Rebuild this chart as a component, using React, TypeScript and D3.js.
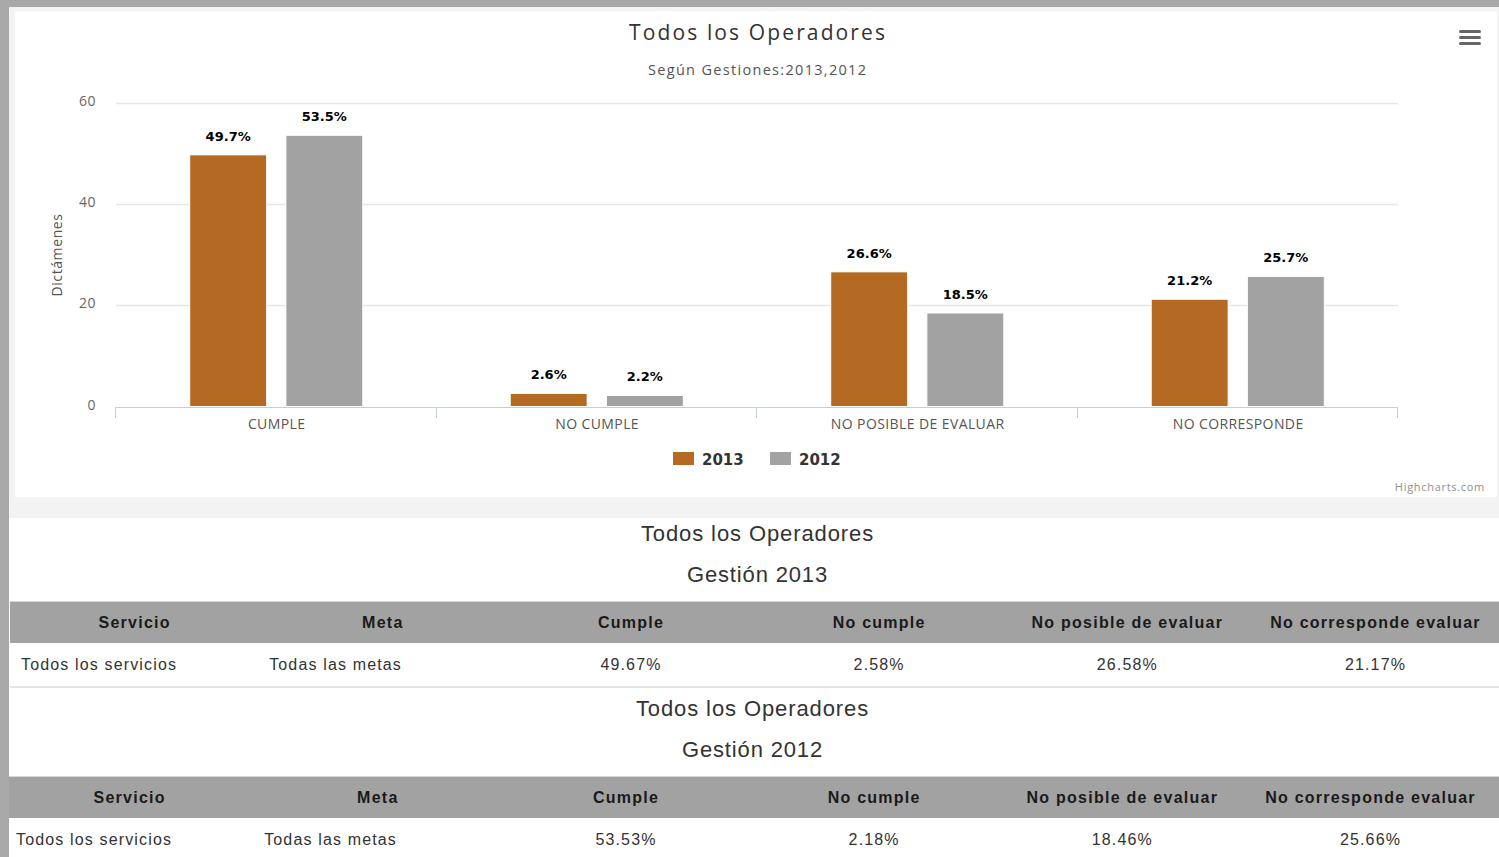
import React from "react";
import * as d3 from "d3";

const categories = ["CUMPLE", "NO CUMPLE", "NO POSIBLE DE EVALUAR", "NO CORRESPONDE"];
const seriesNames = ["2013", "2012"];
const values2013 = [49.67, 2.58, 26.58, 21.17];
const values2012 = [53.53, 2.18, 18.46, 25.66];
const seriesColors = ["#b56a24", "#a3a2a2"];
const yTicks = [0, 20, 40, 60];
const tableHeaders = ["Servicio", "Meta", "Cumple", "No cumple", "No posible de evaluar", "No corresponde evaluar"];
const row2013 = ["Todos los servicios", "Todas las metas", "49.67%", "2.58%", "26.58%", "21.17%"];
const row2012 = ["Todos los servicios", "Todas las metas", "53.53%", "2.18%", "18.46%", "25.66%"];

const W = 1499;
const H = 857;

export default function App() {
  const x = d3.scaleBand<string>().domain(categories).range([116, 1398]);
  const bw = x.bandwidth();
  const inner = d3
    .scaleBand<string>()
    .domain(seriesNames)
    .range([0.2 * bw, 0.8 * bw])
    .paddingInner(0.2)
    .paddingOuter(0.1);
  const y = d3.scaleLinear().domain([0, 60]).range([406.5, 102.5]);
  const series = [values2013, values2012];

  const tableFont = "'Liberation Sans', Arial, sans-serif";
  const chartFont = "'Open Sans', 'DejaVu Sans', sans-serif";
  const boldFont = "'DejaVu Sans', Verdana, sans-serif";

  const renderTable = (top: number, x0: number, title: string, sub: string, row: string[], cx: number) => {
    const colW = 1489 / 6;
    const headY = top + 84;
    return (
      <g>
        <text x={cx + 0.5} y={top + 23} textAnchor="middle" fontFamily={tableFont} fontSize={22} letterSpacing={0.9} fill="#333">{title}</text>
        <text x={cx + 0.5} y={top + 64} textAnchor="middle" fontFamily={tableFont} fontSize={22} letterSpacing={0.85} fill="#333">{sub}</text>
        <rect x={x0} y={headY - 1} width={W - x0} height={1} fill="#d8d8d8" />
        <rect x={x0} y={headY} width={W - x0} height={41} fill="#a3a2a2" />
        {tableHeaders.map((h, i) => (
          <text key={h} x={x0 + colW * i + colW / 2 + 0.6} y={headY + 26} textAnchor="middle" fontFamily={tableFont} fontWeight="bold" fontSize={16} letterSpacing={1.25} fill="#1a1a1a">{h}</text>
        ))}
        {row.map((v, i) => (
          <text key={i} x={i < 2 ? x0 + colW * i + 11 : x0 + colW * i + colW / 2 + 0.6} y={headY + 68} textAnchor={i < 2 ? "start" : "middle"} fontFamily={tableFont} fontSize={16} letterSpacing={1.15} fill="#333">{v}</text>
        ))}
        <rect x={x0} y={headY + 84} width={W - x0} height={2} fill="#e4e4e4" />
      </g>
    );
  };

  return (
    <svg width={W} height={H} style={{ position: "absolute", left: 0, top: 0 }}>
      <rect x={0} y={0} width={W} height={H} fill="#ffffff" />
      {/* chart container */}
      <rect x={9} y={7} width={W - 9} height={511} fill="#f3f3f3" />
      <rect x={15} y={11} width={1482} height={486} fill="#ffffff" />

      {/* title */}
      <text x={757} y={40} textAnchor="middle" fontFamily={chartFont} fontSize={21} fill="#333" textLength={256} lengthAdjust="spacing">Todos los Operadores</text>
      <text x={757} y={75} textAnchor="middle" fontFamily={chartFont} fontSize={14.5} fill="#555" textLength={218} lengthAdjust="spacing">Según Gestiones:2013,2012</text>

      {/* menu icon */}
      {[0, 6, 12].map((d) => (
        <rect key={d} x={1459} y={30 + d} width={22} height={3} rx={1.5} fill="#666" />
      ))}

      {/* grid */}
      {yTicks.filter((t) => t > 0).map((t) => (
        <line key={t} x1={116} x2={1398} y1={Math.round(y(t)) + 0.5} y2={Math.round(y(t)) + 0.5} stroke="#e6e6e6" strokeWidth={1.5} />
      ))}
      {yTicks.map((t) => (
        <text key={t} x={96} y={y(t) + 3} textAnchor="end" fontFamily={chartFont} fontSize={14} letterSpacing={0.5} fill="#666">{t}</text>
      ))}
      <text transform="translate(62,255) rotate(-90)" textAnchor="middle" fontFamily={chartFont} fontSize={14} letterSpacing={0.6} fill="#555">Dictámenes</text>

      {/* bars */}
      {series.map((vals, si) =>
        vals.map((v, ci) => {
          const bx = (x(categories[ci]) as number) + (inner(seriesNames[si]) as number);
          const by = y(v);
          return (
            <g key={`${si}-${ci}`}>
              <rect x={bx} y={by} width={inner.bandwidth()} height={y(0) - by} fill={seriesColors[si]} stroke="#ffffff" strokeWidth={1} />
              <text x={bx + inner.bandwidth() / 2} y={by - 14} textAnchor="middle" fontFamily={boldFont} fontWeight="bold" fontSize={13} fill="#000" stroke="#fff" strokeWidth={2} paintOrder="stroke">{`${v.toFixed(1)}%`}</text>
            </g>
          );
        })
      )}

      {/* x axis */}
      <line x1={116} x2={1398} y1={407.5} y2={407.5} stroke="#c0d0e0" strokeWidth={1} />
      {[...categories.map((c) => x(c) as number), 1398].map((tx, i) => (
        <line key={i} x1={Math.round(tx) - 0.5} x2={Math.round(tx) - 0.5} y1={407} y2={418} stroke="#c0d0e0" strokeWidth={1} />
      ))}
      {categories.map((c) => (
        <text key={c} x={(x(c) as number) + bw / 2 + 0.4} y={429} textAnchor="middle" fontFamily={chartFont} fontSize={14} letterSpacing={0.4} fill="#555">{c}</text>
      ))}

      {/* legend */}
      {seriesNames.map((s, i) => (
        <g key={s} transform={`translate(${673 + i * 97},452)`}>
          <rect x={0} y={0} width={21} height={13} fill={seriesColors[i]} />
          <text x={29} y={12.5} fontFamily={boldFont} fontWeight="bold" fontSize={15} fill="#333">{s}</text>
        </g>
      ))}
      <text x={1485} y={491} textAnchor="end" fontFamily={chartFont} fontSize={11} letterSpacing={0.7} fill="#909090">Highcharts.com</text>

      {/* tables */}
      {renderTable(518, 10, "Todos los Operadores", "Gestión 2013", row2013, 757)}
      {renderTable(693, 5, "Todos los Operadores", "Gestión 2012", row2012, 752)}

      {/* outer frame */}
      <rect x={0} y={0} width={W} height={7} fill="#a8a8a8" />
      <rect x={0} y={0} width={9} height={H} fill="#a8a8a8" />
    </svg>
  );
}
